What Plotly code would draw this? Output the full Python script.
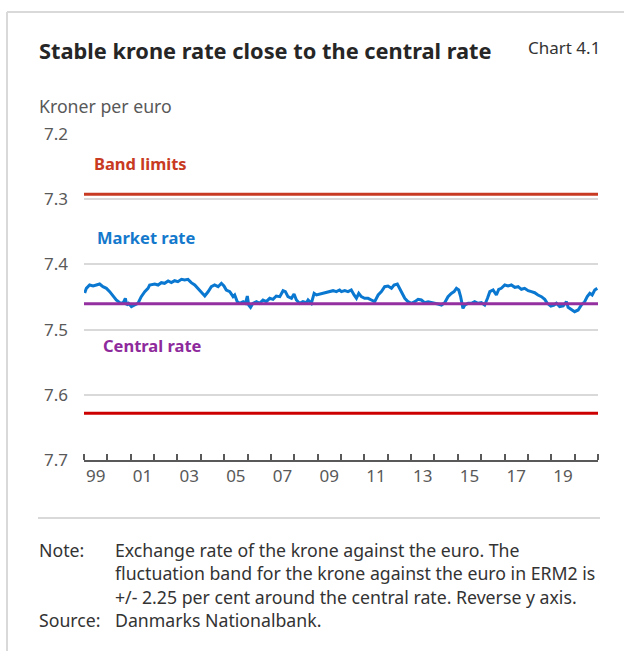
import plotly.graph_objects as go

# ---- data ----
years = [
    1999.03, 1999.10, 1999.24, 1999.39, 1999.53, 1999.67, 1999.81, 1999.96,
    2000.10, 2000.24, 2000.38, 2000.53, 2000.67, 2000.77, 2000.83, 2000.91,
    2001.03, 2001.17, 2001.31, 2001.45, 2001.60, 2001.74, 2001.81, 2002.03,
    2002.17, 2002.31, 2002.45, 2002.60, 2002.74, 2002.88, 2003.02, 2003.17,
    2003.31, 2003.45, 2003.59, 2003.74, 2003.88, 2004.02, 2004.17, 2004.31,
    2004.45, 2004.59, 2004.74, 2004.88, 2004.99, 2005.09, 2005.24, 2005.38,
    2005.45, 2005.56, 2005.66, 2005.81, 2005.91, 2005.99, 2006.05, 2006.13,
    2006.23, 2006.38, 2006.52, 2006.66, 2006.80, 2006.95, 2007.09, 2007.23,
    2007.38, 2007.52, 2007.62, 2007.73, 2007.88, 2007.99, 2008.09, 2008.23,
    2008.37, 2008.52, 2008.59, 2008.73, 2008.85, 2008.95, 2009.09, 2009.23,
    2009.37, 2009.52, 2009.66, 2009.80, 2009.94, 2010.02, 2010.16, 2010.30,
    2010.44, 2010.56, 2010.66, 2010.76, 2010.87, 2011.01, 2011.16, 2011.30,
    2011.44, 2011.59, 2011.73, 2011.87, 2012.01, 2012.16, 2012.27, 2012.41,
    2012.51, 2012.61, 2012.73, 2012.87, 2013.01, 2013.16, 2013.30, 2013.44,
    2013.58, 2013.73, 2013.87, 2014.01, 2014.15, 2014.30, 2014.44, 2014.58,
    2014.72, 2014.84, 2014.94, 2015.04, 2015.12, 2015.22, 2015.30, 2015.44,
    2015.58, 2015.72, 2015.87, 2016.01, 2016.15, 2016.27, 2016.37, 2016.51,
    2016.65, 2016.75, 2016.86, 2017.01, 2017.15, 2017.29, 2017.44, 2017.58,
    2017.72, 2017.86, 2018.01, 2018.15, 2018.29, 2018.43, 2018.58, 2018.72,
    2018.83, 2018.98, 2019.12, 2019.22, 2019.36, 2019.51, 2019.65, 2019.72,
    2019.86, 2020.00, 2020.15, 2020.29, 2020.43, 2020.54, 2020.65, 2020.75,
    2020.86, 2020.97,
]
market_rate = [
    7.4440, 7.4367, 7.4316, 7.4331, 7.4316, 7.4301, 7.4342, 7.4367,
    7.4418, 7.4485, 7.4546, 7.4587, 7.4597, 7.4520, 7.4623, 7.4597,
    7.4648, 7.4623, 7.4597, 7.4495, 7.4418, 7.4367, 7.4316, 7.4301,
    7.4316, 7.4280, 7.4290, 7.4255, 7.4280, 7.4250, 7.4265, 7.4229,
    7.4239, 7.4229, 7.4280, 7.4316, 7.4367, 7.4418, 7.4485, 7.4420,
    7.4342, 7.4316, 7.4342, 7.4290, 7.4331, 7.4393, 7.4418, 7.4495,
    7.4469, 7.4572, 7.4597, 7.4572, 7.4597, 7.4485, 7.4623, 7.4658,
    7.4597, 7.4572, 7.4597, 7.4546, 7.4572, 7.4520, 7.4536, 7.4485,
    7.4495, 7.4403, 7.4418, 7.4495, 7.4520, 7.4454, 7.4546, 7.4597,
    7.4572, 7.4587, 7.4546, 7.4597, 7.4444, 7.4469, 7.4454, 7.4444,
    7.4434, 7.4418, 7.4403, 7.4418, 7.4393, 7.4418, 7.4403, 7.4418,
    7.4393, 7.4469, 7.4520, 7.4444, 7.4495, 7.4520, 7.4520, 7.4546,
    7.4572, 7.4469, 7.4418, 7.4342, 7.4331, 7.4367, 7.4316, 7.4301,
    7.4367, 7.4418, 7.4520, 7.4572, 7.4597, 7.4572, 7.4536, 7.4546,
    7.4587, 7.4572, 7.4580, 7.4597, 7.4607, 7.4623, 7.4587, 7.4495,
    7.4444, 7.4418, 7.4367, 7.4393, 7.4495, 7.4674, 7.4623, 7.4597,
    7.4597, 7.4572, 7.4597, 7.4587, 7.4623, 7.4520, 7.4418, 7.4393,
    7.4469, 7.4382, 7.4367, 7.4316, 7.4331, 7.4316, 7.4352, 7.4342,
    7.4382, 7.4367, 7.4403, 7.4418, 7.4434, 7.4469, 7.4495, 7.4536,
    7.4597, 7.4638, 7.4623, 7.4597, 7.4648, 7.4638, 7.4572, 7.4658,
    7.4699, 7.4725, 7.4699, 7.4623, 7.4572, 7.4495, 7.4444, 7.4469,
    7.4393, 7.4367,
]
central_rate = 7.46038
band_upper = 7.29252   # -2.25 per cent (shown at top, reversed axis)
band_lower = 7.62824   # +2.25 per cent
period = [1999, 2021]

year_ticks = list(range(1999, 2022))
label_pos = [1999.5, 2001.5, 2003.5, 2005.5, 2007.5, 2009.5, 2011.5,
             2013.5, 2015.5, 2017.5, 2019.5]
label_text = ["99", "01", "03", "05", "07", "09", "11", "13", "15", "17", "19"]
y_ticks = [7.2, 7.3, 7.4, 7.5, 7.6, 7.7]

# ---- styling ----
FONT = "Noto Sans"
RED_UP = "#c83a22"
RED_LO = "#cc0000"
BLUE = "#0a78d0"
PURPLE = "#9430a0"
GRID = "#d9d9d9"
GRAYTXT = "#595959"
TXT = 17
NOTE = 17.7
LAB = 16.5

fig = go.Figure()
fig.add_trace(go.Scatter(x=period, y=[band_upper, band_upper], mode="lines",
                         line=dict(color=RED_UP, width=3), hoverinfo="skip"))
fig.add_trace(go.Scatter(x=period, y=[band_lower, band_lower], mode="lines",
                         line=dict(color=RED_LO, width=3), hoverinfo="skip"))
fig.add_trace(go.Scatter(x=years, y=market_rate, mode="lines",
                         line=dict(color=BLUE, width=3)))
fig.add_trace(go.Scatter(x=period, y=[central_rate, central_rate], mode="lines",
                         line=dict(color=PURPLE, width=3), hoverinfo="skip"))

L, R, T, B = 84, 26, 134, 191
W, H = 624, 651
pw, ph = W - L - R, H - T - B


def px(x):
    return (x - L) / pw


def py(y):
    return (H - B - y) / ph


fig.update_layout(
    width=W, height=H, autosize=False,
    margin=dict(l=L, r=R, t=T, b=B, pad=0),
    paper_bgcolor="white", plot_bgcolor="white",
    showlegend=False,
    font=dict(family=FONT, color=GRAYTXT, size=TXT),
    xaxis=dict(
        range=period, showgrid=False, zeroline=False,
        showline=True, linecolor=GRAYTXT, linewidth=1.5,
        tickmode="array", tickvals=label_pos, ticktext=label_text,
        ticks="", tickfont=dict(size=TXT, color=GRAYTXT),
        minor=dict(tickmode="array", tickvals=year_ticks, ticks="inside",
                   ticklen=6, tickwidth=1.5, tickcolor=GRAYTXT, showgrid=False),
    ),
    yaxis=dict(
        range=[7.7, 7.2], tickmode="array", tickvals=y_ticks,
        ticktext=[f"{v:.1f}" for v in y_ticks],
        showgrid=True, gridcolor=GRID, gridwidth=1.5, zeroline=False,
        showline=False, ticks="", ticklabelstandoff=15,
        tickfont=dict(size=TXT, color=GRAYTXT),
    ),
)

ann = []
ann.append(dict(text="<b>Stable krone rate close to the central rate</b>",
                x=px(37), y=py(51), xref="paper", yref="paper",
                xanchor="left", yanchor="middle", showarrow=False,
                font=dict(size=21.8, color="#262626", family=FONT)))
ann.append(dict(text="Chart 4.1", x=px(602), y=py(48), xref="paper", yref="paper",
                xanchor="right", yanchor="middle", showarrow=False,
                font=dict(size=TXT, color="#333333", family=FONT)))
ann.append(dict(text="Kroner per euro", x=px(37), y=py(106), xref="paper",
                yref="paper", xanchor="left", yanchor="middle", showarrow=False,
                font=dict(size=NOTE, color=GRAYTXT, family=FONT)))
ann.append(dict(text="<b>Band limits</b>", x=px(92), y=7.2445, xref="paper",
                yref="y", xanchor="left", yanchor="middle", showarrow=False,
                font=dict(size=LAB, color=RED_UP, family=FONT)))
ann.append(dict(text="<b>Market rate</b>", x=px(95), y=7.3595, xref="paper",
                yref="y", xanchor="left", yanchor="middle", showarrow=False,
                font=dict(size=LAB, color="#1479cc", family=FONT)))
ann.append(dict(text="<b>Central rate</b>", x=px(101), y=7.525, xref="paper",
                yref="y", xanchor="left", yanchor="middle", showarrow=False,
                font=dict(size=LAB, color="#8e2a9c", family=FONT)))

note_lines = [
    ("Note:", "Exchange rate of the krone against the euro. The"),
    ("", "fluctuation band for the krone against the euro in ERM2 is"),
    ("", "+/- 2.25 per cent around the central rate. Reverse y axis."),
    ("Source:", "Danmarks Nationalbank."),
]
for i, (lab, txt) in enumerate(note_lines):
    yy = 550 + i * 23.3
    if lab:
        ann.append(dict(text=lab, x=px(37), y=py(yy), xref="paper", yref="paper",
                        xanchor="left", yanchor="middle", showarrow=False,
                        font=dict(size=NOTE, color="#333333", family=FONT)))
    ann.append(dict(text=txt, x=px(113), y=py(yy), xref="paper", yref="paper",
                    xanchor="left", yanchor="middle", showarrow=False,
                    font=dict(size=NOTE, color="#333333", family=FONT)))
fig.update_layout(annotations=ann)

shapes = [
    dict(type="line", xref="paper", yref="paper", x0=px(38), x1=px(600),
         y0=py(518), y1=py(518), line=dict(color="#cccccc", width=1.5)),
    dict(type="line", xref="paper", yref="paper", x0=px(7), x1=px(624),
         y0=py(12), y1=py(12), line=dict(color=GRID, width=2)),
    dict(type="line", xref="paper", yref="paper", x0=px(7), x1=px(7),
         y0=py(12), y1=py(651), line=dict(color=GRID, width=2)),
]
fig.update_layout(shapes=shapes)

fig.write_html("out.html",
               config={"displayModeBar": False},
               post_script="document.body.style.margin='0px';"
                           "document.body.style.overflow='hidden';")
